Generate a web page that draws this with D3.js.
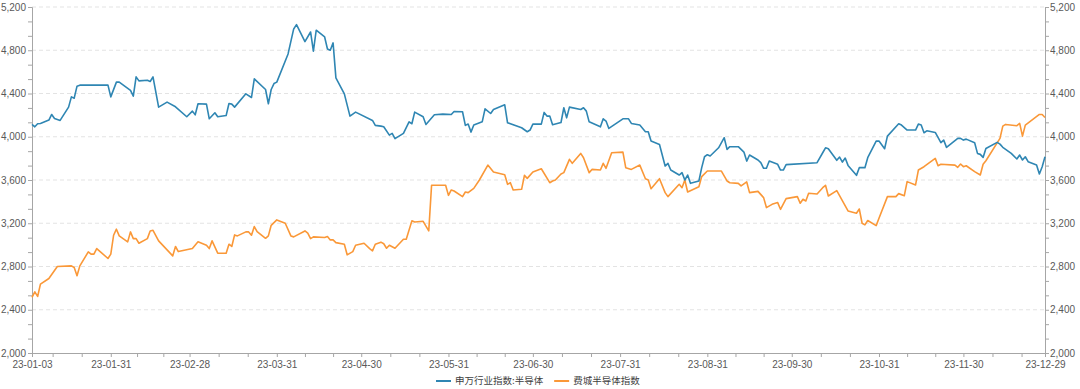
<!DOCTYPE html>
<html>
<head>
<meta charset="utf-8">
<script src="https://cdn.jsdelivr.net/npm/d3@7"></script>
<style>
  body { margin: 0; background: #fff; }
  svg { display: block; font-family: "Noto Sans CJK SC", "Noto Sans", sans-serif; }
  .axis path, .axis line { stroke: #a6a6a6; }
  .axis text { fill: #595959; font-size: 10px; }
</style>
</head>
<body>
<div id="container"></div>
<script>
let w = 1080;
let h = 389;

// 申万行业指数:半导体
const semiDates = ["2023-01-03","2023-01-04","2023-01-05","2023-01-06","2023-01-09","2023-01-10","2023-01-11","2023-01-13","2023-01-16","2023-01-17","2023-01-18","2023-01-19","2023-01-20","2023-01-30","2023-01-31","2023-02-02","2023-02-03","2023-02-07","2023-02-08","2023-02-09","2023-02-10","2023-02-13","2023-02-14","2023-02-15","2023-02-17","2023-02-20","2023-02-23","2023-02-27","2023-03-01","2023-03-02","2023-03-03","2023-03-06","2023-03-07","2023-03-09","2023-03-10","2023-03-13","2023-03-14","2023-03-15","2023-03-16","2023-03-20","2023-03-22","2023-03-23","2023-03-27","2023-03-28","2023-03-29","2023-03-30","2023-03-31","2023-04-04","2023-04-06","2023-04-07","2023-04-10","2023-04-12","2023-04-13","2023-04-14","2023-04-17","2023-04-18","2023-04-19","2023-04-20","2023-04-21","2023-04-24","2023-04-26","2023-04-28","2023-05-04","2023-05-05","2023-05-07","2023-05-08","2023-05-10","2023-05-11","2023-05-12","2023-05-15","2023-05-17","2023-05-18","2023-05-19","2023-05-22","2023-05-23","2023-05-26","2023-05-29","2023-06-01","2023-06-02","2023-06-05","2023-06-06","2023-06-07","2023-06-08","2023-06-09","2023-06-12","2023-06-13","2023-06-15","2023-06-16","2023-06-20","2023-06-21","2023-06-26","2023-06-28","2023-06-29","2023-06-30","2023-07-03","2023-07-04","2023-07-05","2023-07-06","2023-07-07","2023-07-10","2023-07-11","2023-07-12","2023-07-13","2023-07-17","2023-07-18","2023-07-19","2023-07-20","2023-07-24","2023-07-25","2023-07-26","2023-07-27","2023-08-01","2023-08-03","2023-08-04","2023-08-07","2023-08-09","2023-08-10","2023-08-11","2023-08-14","2023-08-16","2023-08-17","2023-08-18","2023-08-21","2023-08-22","2023-08-23","2023-08-24","2023-08-25","2023-08-28","2023-08-29","2023-08-30","2023-08-31","2023-09-01","2023-09-04","2023-09-06","2023-09-07","2023-09-08","2023-09-11","2023-09-13","2023-09-14","2023-09-15","2023-09-18","2023-09-19","2023-09-20","2023-09-21","2023-09-22","2023-09-25","2023-09-26","2023-09-27","2023-09-28","2023-10-09","2023-10-11","2023-10-12","2023-10-13","2023-10-16","2023-10-17","2023-10-18","2023-10-19","2023-10-20","2023-10-23","2023-10-24","2023-10-26","2023-10-27","2023-10-30","2023-10-31","2023-11-02","2023-11-03","2023-11-07","2023-11-08","2023-11-10","2023-11-13","2023-11-14","2023-11-15","2023-11-16","2023-11-17","2023-11-20","2023-11-22","2023-11-23","2023-11-24","2023-11-28","2023-11-29","2023-11-30","2023-12-01","2023-12-04","2023-12-05","2023-12-06","2023-12-07","2023-12-08","2023-12-12","2023-12-13","2023-12-14","2023-12-17","2023-12-19","2023-12-20","2023-12-21","2023-12-22","2023-12-23","2023-12-26","2023-12-27","2023-12-28","2023-12-29"];
const semiValues = [4115,4092,4120,4123,4154,4206,4169,4151,4274,4369,4357,4468,4477,4477,4369,4505,4505,4428,4375,4554,4517,4523,4511,4554,4274,4320,4277,4185,4237,4203,4305,4302,4166,4222,4185,4197,4308,4302,4274,4397,4363,4535,4437,4305,4437,4492,4505,4766,4997,5037,4880,4969,4791,4985,4923,4812,4800,4868,4545,4397,4191,4228,4151,4105,4098,4092,4015,4031,3982,4031,4138,4120,4228,4185,4114,4203,4209,4206,4234,4231,4105,4117,4043,4108,4138,4258,4215,4252,4295,4129,4083,4046,4062,4117,4117,4225,4191,4191,4111,4132,4268,4175,4274,4252,4268,4237,4138,4092,4166,4145,4077,4166,4166,4123,4108,4046,4046,3960,3929,3729,3754,3692,3646,3668,3600,3646,3569,3591,3714,3815,3834,3822,3898,3991,3883,3908,3908,3858,3775,3831,3785,3760,3708,3708,3775,3745,3692,3692,3742,3760,3852,3898,3889,3782,3812,3766,3803,3735,3643,3714,3714,3806,3960,3960,3889,4006,4120,4108,4062,4062,4117,4108,4037,4055,4040,3945,3969,3902,3985,3985,3969,3978,3945,3846,3837,3809,3892,3948,3932,3902,3846,3794,3831,3785,3815,3769,3738,3655,3723,3815];

// 费城半导体指数
const soxDates = ["2023-01-03","2023-01-04","2023-01-05","2023-01-06","2023-01-09","2023-01-12","2023-01-17","2023-01-18","2023-01-19","2023-01-20","2023-01-23","2023-01-24","2023-01-25","2023-01-26","2023-01-30","2023-01-31","2023-02-01","2023-02-02","2023-02-03","2023-02-06","2023-02-07","2023-02-08","2023-02-09","2023-02-10","2023-02-13","2023-02-14","2023-02-15","2023-02-17","2023-02-22","2023-02-23","2023-02-24","2023-03-01","2023-03-03","2023-03-06","2023-03-07","2023-03-08","2023-03-10","2023-03-13","2023-03-14","2023-03-15","2023-03-16","2023-03-17","2023-03-20","2023-03-21","2023-03-22","2023-03-23","2023-03-24","2023-03-27","2023-03-28","2023-03-29","2023-03-31","2023-04-03","2023-04-05","2023-04-06","2023-04-10","2023-04-11","2023-04-12","2023-04-13","2023-04-17","2023-04-18","2023-04-19","2023-04-20","2023-04-21","2023-04-24","2023-04-25","2023-04-27","2023-04-28","2023-05-01","2023-05-03","2023-05-04","2023-05-05","2023-05-07","2023-05-08","2023-05-09","2023-05-10","2023-05-12","2023-05-15","2023-05-16","2023-05-18","2023-05-19","2023-05-22","2023-05-24","2023-05-25","2023-05-30","2023-05-31","2023-06-01","2023-06-02","2023-06-05","2023-06-06","2023-06-07","2023-06-09","2023-06-11","2023-06-14","2023-06-16","2023-06-20","2023-06-21","2023-06-22","2023-06-23","2023-06-26","2023-06-27","2023-06-28","2023-06-30","2023-07-03","2023-07-06","2023-07-07","2023-07-08","2023-07-10","2023-07-11","2023-07-13","2023-07-14","2023-07-17","2023-07-18","2023-07-20","2023-07-21","2023-07-24","2023-07-25","2023-07-26","2023-07-28","2023-08-01","2023-08-02","2023-08-04","2023-08-07","2023-08-09","2023-08-10","2023-08-11","2023-08-14","2023-08-16","2023-08-17","2023-08-21","2023-08-22","2023-08-23","2023-08-24","2023-08-28","2023-08-29","2023-08-31","2023-09-05","2023-09-07","2023-09-08","2023-09-11","2023-09-12","2023-09-14","2023-09-15","2023-09-18","2023-09-20","2023-09-21","2023-09-23","2023-09-25","2023-09-26","2023-09-28","2023-10-02","2023-10-03","2023-10-04","2023-10-05","2023-10-06","2023-10-09","2023-10-11","2023-10-12","2023-10-13","2023-10-16","2023-10-20","2023-10-23","2023-10-24","2023-10-25","2023-10-26","2023-10-27","2023-10-30","2023-10-31","2023-11-03","2023-11-06","2023-11-07","2023-11-09","2023-11-10","2023-11-13","2023-11-14","2023-11-16","2023-11-20","2023-11-21","2023-11-22","2023-11-27","2023-11-28","2023-11-29","2023-11-30","2023-12-01","2023-12-04","2023-12-06","2023-12-07","2023-12-08","2023-12-13","2023-12-14","2023-12-15","2023-12-19","2023-12-20","2023-12-21","2023-12-22","2023-12-27","2023-12-28","2023-12-29"];
const soxValues = [2514,2566,2523,2637,2689,2800,2806,2791,2714,2806,2935,2914,2914,2966,2874,2914,3089,3145,3083,3028,3120,3058,3058,3015,3058,3129,3135,3037,2898,2985,2938,2966,3028,2997,2966,3037,2923,2923,3006,2985,3092,3083,3120,3120,3089,3169,3123,3061,3083,3181,3231,3200,3083,3074,3129,3108,3058,3074,3068,3077,3046,3046,3021,3006,2908,2938,2997,3015,2966,2945,3006,3025,3010,2969,2997,2969,3052,3052,3222,3212,3218,3129,3551,3551,3458,3508,3498,3446,3489,3483,3523,3600,3738,3674,3649,3560,3575,3508,3514,3643,3615,3674,3704,3575,3591,3600,3655,3668,3791,3754,3846,3806,3668,3698,3692,3754,3708,3852,3858,3714,3698,3738,3612,3600,3520,3612,3483,3446,3560,3529,3600,3489,3538,3631,3683,3683,3591,3575,3569,3545,3582,3483,3495,3437,3345,3375,3391,3329,3428,3446,3385,3422,3406,3477,3471,3529,3551,3452,3502,3314,3292,3332,3200,3185,3225,3178,3246,3446,3446,3474,3455,3585,3554,3692,3723,3800,3732,3745,3738,3717,3748,3723,3732,3677,3646,3745,3778,3985,4098,4114,4102,4123,4006,4108,4206,4206,4178];

const xTickLabels = ["2023-01-03","2023-01-31","2023-02-28","2023-03-31","2023-04-30","2023-05-31","2023-06-30","2023-07-31","2023-08-31","2023-09-30","2023-10-31","2023-11-30","2023-12-29"];
const yTicks = [2000,2400,2800,3200,3600,4000,4400,4800,5200];
const seriesNames = ["申万行业指数:半导体","费城半导体指数"];
const seriesColors = ["#2f86b3","#fa9838"];

let margin = {left: 32, right: 35, top: 7, bottom: 36};
let parse = d3.timeParse("%Y-%m-%d");

let semi = semiDates.map((d, i) => ({date: parse(d), value: semiValues[i]}));
let sox = soxDates.map((d, i) => ({date: parse(d), value: soxValues[i]}));

let viz = d3.select("#container")
  .append("svg")
    .attr("width", w)
    .attr("height", h)
;

let xScale = d3.scaleTime()
  .domain([parse(xTickLabels[0]), parse(xTickLabels[xTickLabels.length - 1])])
  .range([margin.left, w - margin.right]);
let yLeft = d3.scaleLinear().domain([2000, 5200]).range([h - margin.bottom, margin.top]);
let yRight = d3.scaleLinear().domain([2000, 5200]).range([h - margin.bottom, margin.top]);

// dashed horizontal grid
viz.append("g").attr("class", "grid")
  .selectAll("line")
  .data(yTicks.filter(d => d > 2000))
  .enter().append("line")
    .attr("x1", margin.left)
    .attr("x2", w - margin.right)
    .attr("y1", d => yLeft(d))
    .attr("y2", d => yLeft(d))
    .attr("stroke", "#e3e3e3")
    .attr("stroke-dasharray", "4,3")
;

// minor ticks: thirds between month ends, and thirds between the y labels
let monthEnds = d3.timeMonth.range(new Date(2023, 0, 1), new Date(2024, 0, 2)).map(d => d3.timeDay.offset(d, -1));
let xMinor = [];
for (let i = 0; i < monthEnds.length - 1; i++) {
  let a = +monthEnds[i], b = +monthEnds[i + 1];
  xMinor.push(new Date(a + (b - a) / 3), new Date(a + 2 * (b - a) / 3));
}
let yMinor = [];
for (let i = 0; i < yTicks.length - 1; i++) {
  let step = (yTicks[i + 1] - yTicks[i]) / 3;
  yMinor.push(yTicks[i] + step, yTicks[i] + 2 * step);
}

let xAxisGroup = viz.append("g").attr("class", "axis xaxis")
  .attr("transform", "translate(0," + (h - margin.bottom) + ")");
xAxisGroup.call(d3.axisBottom(xScale).tickValues(xMinor).tickFormat("").tickSize(4).tickSizeOuter(0));
xAxisGroup.append("g").call(
  d3.axisBottom(xScale)
    .tickValues(xTickLabels.map(parse))
    .tickFormat(d3.timeFormat("%y-%m-%d"))
    .tickSize(4).tickSizeOuter(0)
    .tickPadding(4)
);

let yAxisGroup = viz.append("g").attr("class", "axis yaxis")
  .attr("transform", "translate(" + margin.left + ",0)");
yAxisGroup.call(d3.axisLeft(yLeft).tickValues(yMinor).tickFormat("").tickSize(4).tickSizeOuter(0));
yAxisGroup.append("g").call(d3.axisLeft(yLeft).tickValues(yTicks).tickFormat(d3.format(",")).tickSize(4).tickSizeOuter(0).tickPadding(2));

let yAxisRightGroup = viz.append("g").attr("class", "axis yaxis-right")
  .attr("transform", "translate(" + (w - margin.right) + ",0)");
yAxisRightGroup.call(d3.axisRight(yRight).tickValues(yMinor).tickFormat("").tickSize(4).tickSizeOuter(0));
yAxisRightGroup.append("g").call(d3.axisRight(yRight).tickValues(yTicks).tickFormat(d3.format(",")).tickSize(4).tickSizeOuter(0).tickPadding(1));

let lineLeft = d3.line().x(d => xScale(d.date)).y(d => yLeft(d.value));
let lineRight = d3.line().x(d => xScale(d.date)).y(d => yRight(d.value));

viz.append("path")
  .datum(sox)
  .attr("fill", "none")
  .attr("stroke", seriesColors[1])
  .attr("stroke-width", 1.6)
  .attr("stroke-linejoin", "round")
  .attr("d", lineRight)
;
viz.append("path")
  .datum(semi)
  .attr("fill", "none")
  .attr("stroke", seriesColors[0])
  .attr("stroke-width", 1.6)
  .attr("stroke-linejoin", "round")
  .attr("d", lineLeft)
;

// legend, centred under the plot
let legend = viz.append("g").attr("class", "legend");
let items = legend.selectAll(".item").data(seriesNames).enter()
  .append("g").attr("class", "item");
items.append("line")
  .attr("x1", 0).attr("x2", 15)
  .attr("y1", 0).attr("y2", 0)
  .attr("stroke", (d, i) => seriesColors[i])
  .attr("stroke-width", 2)
;
items.append("text")
  .attr("x", 19)
  .attr("dy", "0.35em")
  .attr("font-size", "9.5px")
  .attr("fill", "#404040")
  .text(d => d)
;
let xPos = 0;
items.each(function() {
  let g = d3.select(this);
  g.attr("transform", "translate(" + xPos + ",0)");
  xPos += 19 + g.select("text").node().getComputedTextLength() + 11;
});
legend.attr("transform", "translate(" + Math.round(538 - (xPos - 11) / 2) + ",381)");
</script>
</body>
</html>
